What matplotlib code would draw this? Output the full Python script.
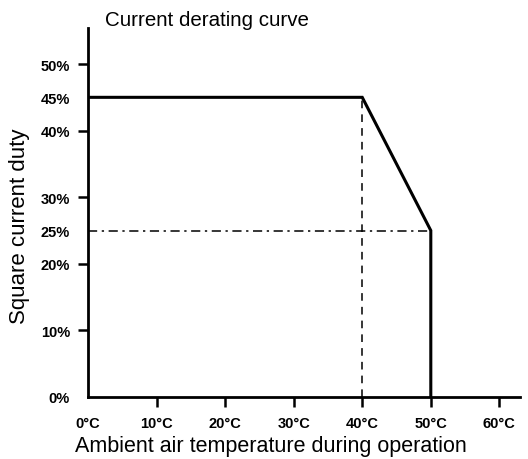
import matplotlib.pyplot as plt

# Curva de derating (temperatura en °C, duty en %)
temp = [0, 40, 50, 50]
duty = [45, 45, 25, 0]

x_ticks = [10, 20, 30, 40, 50, 60]
y_ticks = [10, 20, 30, 40, 50]
y_extra = [0, 25, 45]   # etiquetas sin marca
x_extra = [0]

plt.rcParams['font.family'] = ['Liberation Sans', 'DejaVu Sans']

fig = plt.figure(figsize=(5.28, 4.6), dpi=100)
ax = fig.add_axes([0.1667, 0.1348, 0.818, 0.802])

ax.plot(temp, duty, color='black', linewidth=2.2, solid_joinstyle='miter')
# guias
ax.plot([40, 40], [0, 45], color='black', linewidth=1.1, linestyle=(0, (5, 4)))
ax.plot([0, 50], [25, 25], color='black', linewidth=1.1, linestyle=(0, (6, 3, 1.5, 3)))

ax.set_xlim(0, 63)
ax.set_ylim(0, 55.4)

ax.spines['top'].set_visible(False)
ax.spines['right'].set_visible(False)
ax.spines['left'].set_linewidth(2)
ax.spines['bottom'].set_linewidth(2)

ax.set_xticks(x_ticks)
ax.set_xticklabels([f"{t}°C" for t in x_ticks])
ax.set_xticks(x_extra, minor=True)
ax.set_xticklabels([f"{t}°C" for t in x_extra], minor=True)
ax.set_yticks(y_ticks)
ax.set_yticklabels([f"{t}%" for t in y_ticks])
ax.set_yticks(y_extra, minor=True)
ax.set_yticklabels([f"{t}%" for t in y_extra], minor=True)

ax.tick_params(which='major', length=7, width=1.8, direction='out', labelsize=10.5)
ax.tick_params(which='minor', length=0, labelsize=10.5)
ax.tick_params(axis='x', which='major', pad=7)
ax.tick_params(axis='x', which='minor', pad=14)
ax.tick_params(axis='y', which='minor', pad=13)
ax.tick_params(axis='y', which='major', pad=6)
for lbl in ax.get_xticklabels(which='both') + ax.get_yticklabels(which='both'):
    lbl.set_fontweight('bold')

fig.text(271 / 528, 1 - 447 / 460, "Ambient air temperature during operation",
         fontsize=15.5, ha='center', va='center')
fig.text(20 / 528, 1 - 226 / 460, "Square current duty",
         fontsize=16, ha='center', va='center', rotation=90)
fig.text(105 / 528, 1 - 20 / 460, "Current derating curve", fontsize=14.8, ha='left', va='center')

plt.savefig("out.png", dpi=100)
